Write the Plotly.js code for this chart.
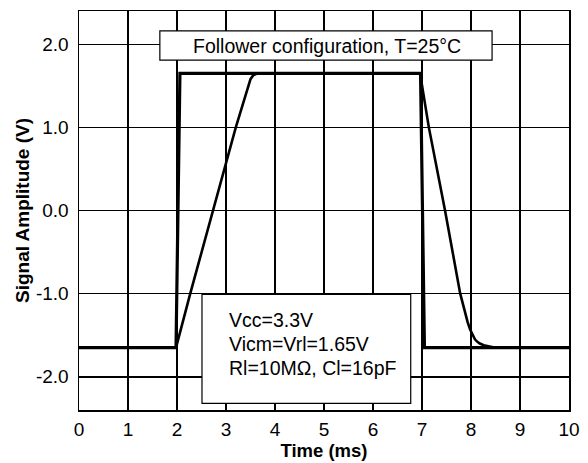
<!DOCTYPE html>
<html><head><meta charset="utf-8">
<script src="https://cdn.plot.ly/plotly-3.0.1.min.js"></script>
<style>body{margin:0;padding:0;background:#fff}#chart{width:588px;height:463px}</style>
</head><body><div id="chart"></div>
<script>
// Input pulse (fast edge)
const inputTime = [0, 1.98, 2.06, 6.97, 7.05, 10];
const inputAmp  = [-1.65, -1.65, 1.65, 1.65, -1.65, -1.65];
// Follower output (slew limited)
const outputTime = [0, 1.98, 2.27, 2.74, 3.2, 3.5, 3.56, 3.65, 6.96, 7.14, 7.47, 7.78, 7.83, 7.88, 7.93, 7.98, 8.03, 8.08, 8.13, 8.18, 8.26, 8.39, 8.5, 10];
const outputAmp  = [-1.65, -1.65, -1.0, 0.0, 1.0, 1.58, 1.63, 1.65, 1.65, 1.0, 0.0, -1.0, -1.12, -1.23, -1.34, -1.43, -1.5, -1.55, -1.58, -1.6, -1.62, -1.64, -1.65, -1.65];
const xTicks = [0,1,2,3,4,5,6,7,8,9,10];
const yTicks = [-2,-1,0,1,2];
const yTickText = ['-2.0','-1.0','0.0','1.0','2.0'];
const titleText = 'Follower configuration, T=25°C';
const infoLines = ['Vcc=3.3V', 'Vicm=Vrl=1.65V', 'Rl=10MΩ, Cl=16pF'];

const font = 'Liberation Sans, Arial, sans-serif';
const traces = [
  {x: inputTime, y: inputAmp, mode: 'lines', line: {color: '#000', width: 3.2}, hoverinfo: 'skip'},
  {x: outputTime, y: outputAmp, mode: 'lines', line: {color: '#000', width: 2.6}, hoverinfo: 'skip'}
];
const infoY = [-1.32, -1.6, -1.89];
const layout = {
  width: 588, height: 463,
  margin: {l: 79, r: 19, t: 11, b: 53},
  paper_bgcolor: '#fff', plot_bgcolor: '#fff',
  showlegend: false,
  font: {family: font, color: '#000', size: 19},
  xaxis: {
    range: [0, 10], tickvals: xTicks, ticktext: xTicks.map(String),
    showgrid: true, gridcolor: '#000', gridwidth: 1.5,
    zeroline: false, showline: true, linecolor: '#000', linewidth: 1.5, mirror: true,
    ticks: 'outside', ticklen: 2, tickcolor: 'rgba(0,0,0,0)',
    tickfont: {size: 19, family: font},
    title: {text: '<b>Time (ms)</b>', font: {size: 18.5, family: font}, standoff: 3}
  },
  yaxis: {
    range: [-2.4, 2.4], tickvals: yTicks, ticktext: yTickText,
    showgrid: true, gridcolor: '#000', gridwidth: 1.5,
    zeroline: false, showline: true, linecolor: '#000', linewidth: 1.5, mirror: true,
    ticks: 'outside', ticklen: 5, tickcolor: 'rgba(0,0,0,0)',
    tickfont: {size: 19, family: font},
    title: {text: '<b>Signal Amplitude (V)</b>', font: {size: 19, family: font}, standoff: 1}
  },
  shapes: [
    {type: 'rect', xref: 'x', yref: 'y', x0: 1.65, x1: 8.43, y0: 1.81, y1: 2.16,
     fillcolor: '#fff', line: {color: '#000', width: 1.2}, layer: 'between'},
    {type: 'rect', xref: 'x', yref: 'y', x0: 2.51, x1: 6.77, y0: -2.32, y1: -1.01,
     fillcolor: '#fff', line: {color: '#000', width: 1.2}, layer: 'between'}
  ],
  annotations: [
    {text: titleText, xref: 'x', yref: 'y', x: 5.07, y: 1.985, showarrow: false,
     xanchor: 'center', yanchor: 'middle', font: {size: 19.5, family: font}}
  ].concat(infoLines.map((t, i) => ({
    text: t, xref: 'x', yref: 'y', x: 3.02, y: infoY[i], showarrow: false,
    xanchor: 'left', yanchor: 'middle', font: {size: 19.5, family: font}
  })))
};
Plotly.newPlot('chart', traces, layout, {staticPlot: true, displayModeBar: false});
</script></body></html>
